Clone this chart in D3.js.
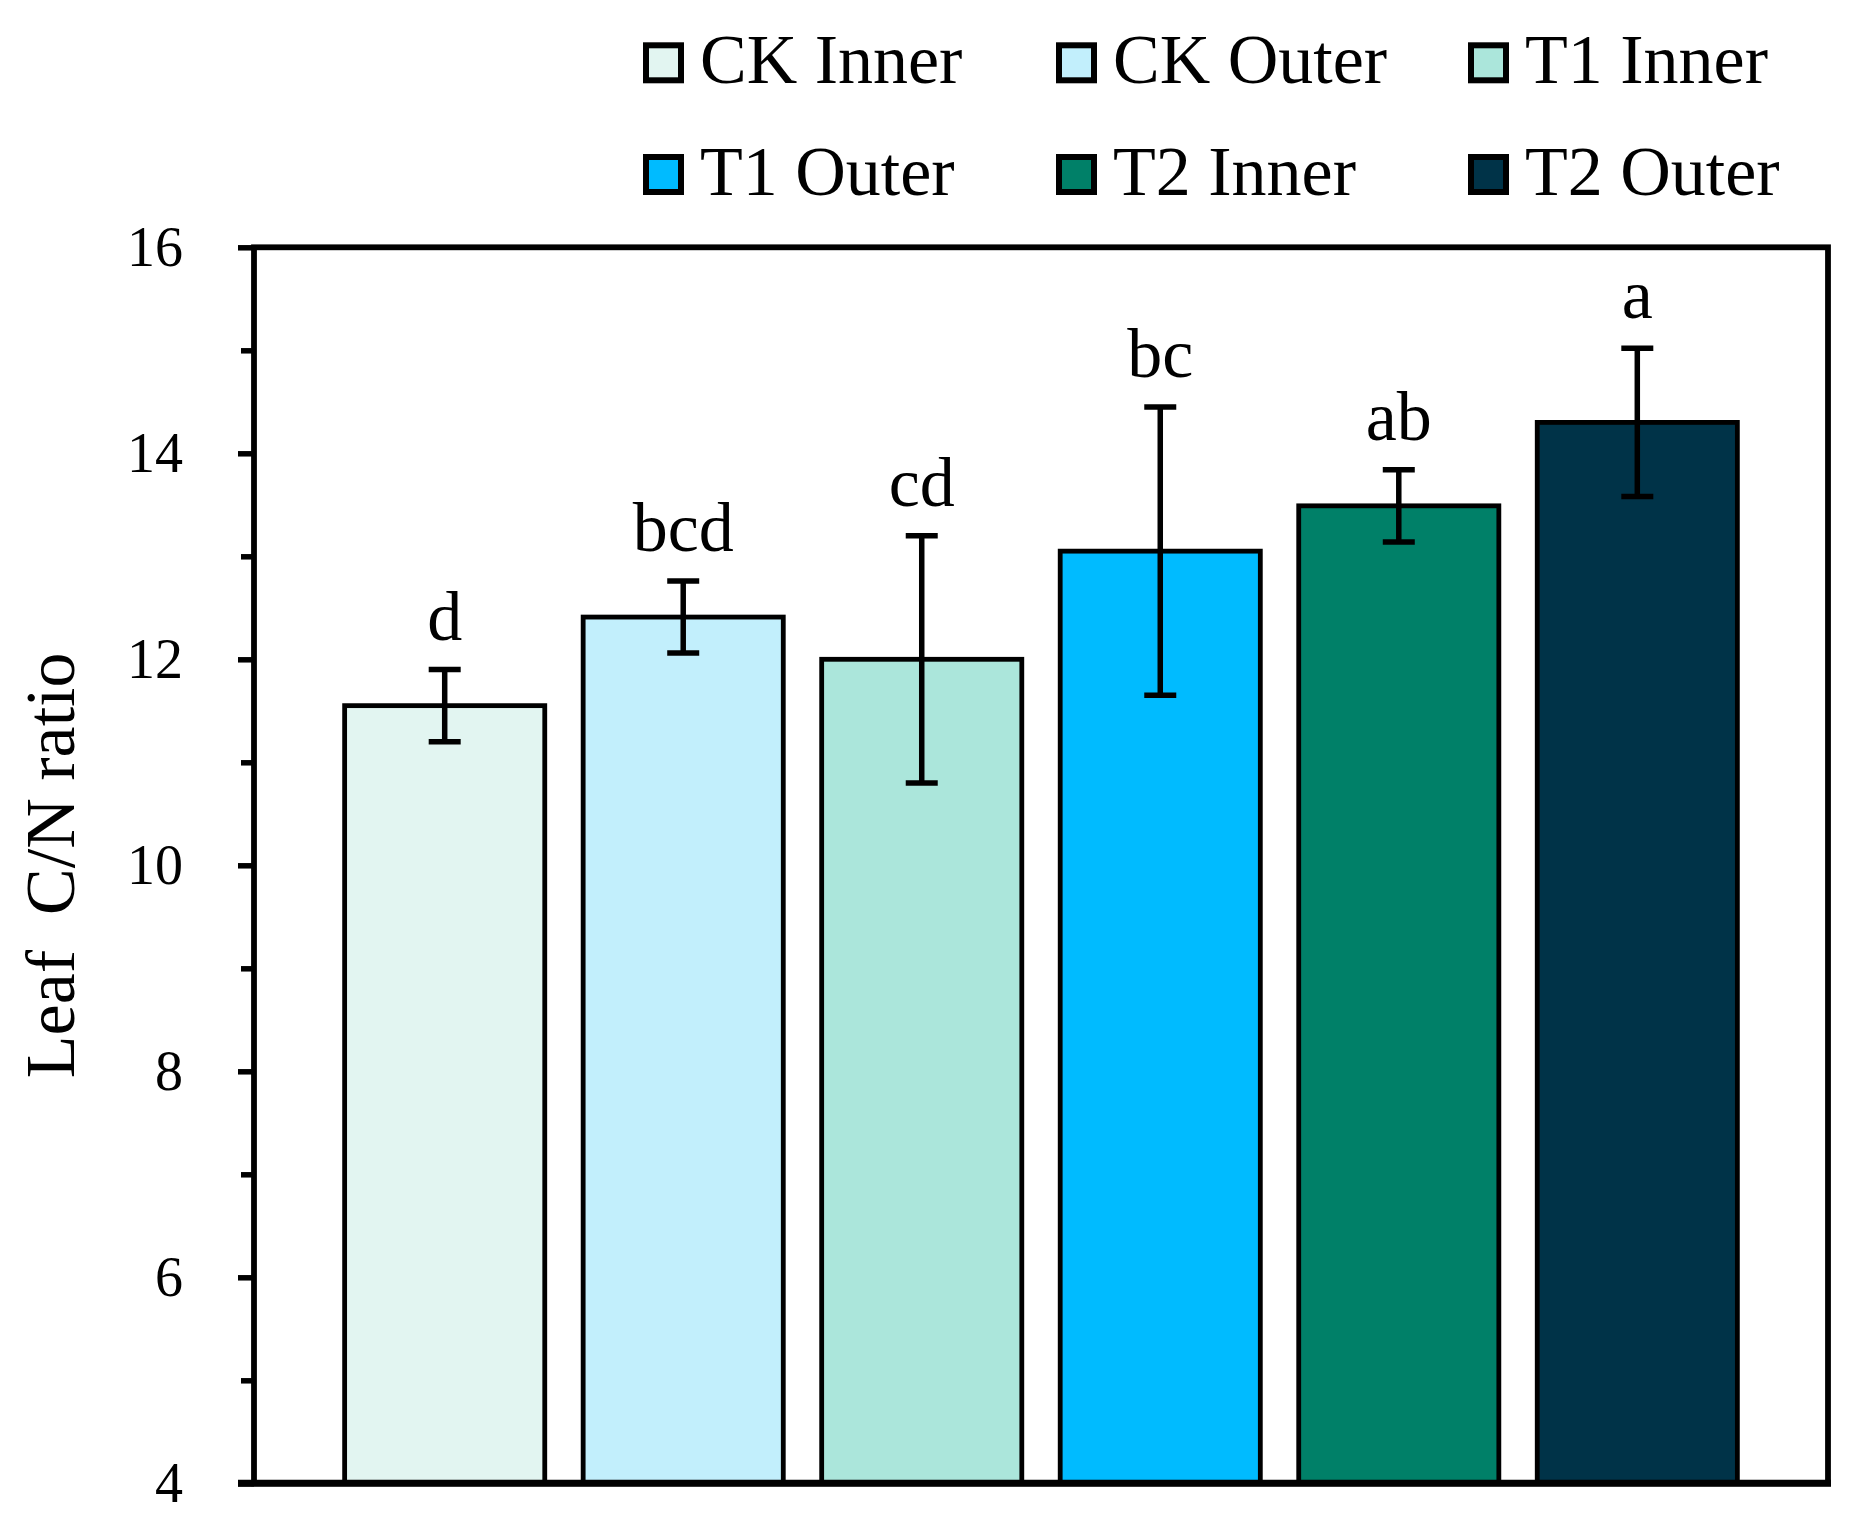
<!DOCTYPE html>
<html>
<head>
<meta charset="utf-8">
<script src="https://cdn.jsdelivr.net/npm/d3@7"></script>
<style>
  html, body { margin: 0; padding: 0; background: #fff; }
  svg text { font-family: "Liberation Serif", "Times New Roman", serif; fill: #000; }
</style>
</head>
<body>
<svg id="chart" width="1854" height="1520"></svg>
<script>
// ---- data ----
const categories = ["CK Inner", "CK Outer", "T1 Inner", "T1 Outer", "T2 Inner", "T2 Outer"];
const means      = [11.55, 12.41, 12.00, 13.05, 13.49, 14.30];
const errors     = [0.35, 0.35, 1.20, 1.40, 0.35, 0.72];
const letters    = ["d", "bcd", "cd", "bc", "ab", "a"];
const colors     = ["#e2f5f1", "#c2effc", "#abe6db", "#00bbff", "#008068", "#003348"];
const majorTicks = [4, 6, 8, 10, 12, 14, 16];
const minorTicks = [5, 7, 9, 11, 13, 15];
const yTitle     = "Leaf  C/N ratio";

// ---- layout ----
const svg = d3.select("#chart");
const L = 254, R = 1828, T = 247.3, B = 1483.3;

const x = d3.scaleBand().domain(categories).range([L, R])
  .paddingInner(0.161).paddingOuter(0.38);
const y = d3.scaleLinear().domain([4, 16]).range([B, T]);

// bars
const g = svg.append("g");
g.selectAll("rect.bar").data(categories).join("rect")
  .attr("class", "bar")
  .attr("x", d => x(d))
  .attr("width", x.bandwidth())
  .attr("y", (d, i) => y(means[i]))
  .attr("height", (d, i) => y(4) - y(means[i]))
  .attr("fill", (d, i) => colors[i])
  .attr("stroke", "#000")
  .attr("stroke-width", 4.8);

// error bars
const capW = 16;
const eg = g.selectAll("g.err").data(categories).join("g").attr("class", "err")
  .attr("transform", d => `translate(${x(d) + x.bandwidth() / 2},0)`);
eg.append("line")
  .attr("y1", (d, i) => y(means[i] + errors[i]))
  .attr("y2", (d, i) => y(means[i] - errors[i]))
  .attr("stroke", "#000").attr("stroke-width", 5.5);
eg.append("line")
  .attr("x1", -capW).attr("x2", capW)
  .attr("y1", (d, i) => y(means[i] + errors[i]))
  .attr("y2", (d, i) => y(means[i] + errors[i]))
  .attr("stroke", "#000").attr("stroke-width", 5.5);
eg.append("line")
  .attr("x1", -capW).attr("x2", capW)
  .attr("y1", (d, i) => y(means[i] - errors[i]))
  .attr("y2", (d, i) => y(means[i] - errors[i]))
  .attr("stroke", "#000").attr("stroke-width", 5.5);

// significance letters
eg.append("text")
  .attr("text-anchor", "middle")
  .attr("y", (d, i) => y(means[i] + errors[i]) - 30)
  .style("font-size", "70px")
  .text((d, i) => letters[i]);

// frame
svg.append("rect")
  .attr("x", L).attr("y", T).attr("width", R - L).attr("height", B - T)
  .attr("fill", "none").attr("stroke", "#000").attr("stroke-width", 5.8);
svg.append("line").attr("x1", L - 16).attr("x2", R + 3)
  .attr("y1", B).attr("y2", B).attr("stroke", "#000").attr("stroke-width", 7);

// y axis major
const yAxis = d3.axisLeft(y).tickValues(majorTicks).tickSize(16).tickPadding(55)
  .tickFormat(d3.format("d"));
const ya = svg.append("g").attr("transform", `translate(${L},0)`).call(yAxis);
ya.select(".domain").remove();
ya.selectAll(".tick line").attr("stroke", "#000").attr("stroke-width", 5.5);
ya.selectAll(".tick text")
  .style("font-family", '"Liberation Serif", "Times New Roman", serif')
  .style("font-size", "56px").attr("fill", "#000");

// y axis minor
const yMinor = d3.axisLeft(y).tickValues(minorTicks).tickSize(13).tickFormat("");
const ym = svg.append("g").attr("transform", `translate(${L},0)`).call(yMinor);
ym.select(".domain").remove();
ym.selectAll(".tick line").attr("stroke", "#000").attr("stroke-width", 5.5);

// y title
svg.append("text")
  .attr("transform", `translate(74,${(T + B) / 2}) rotate(-90)`)
  .attr("text-anchor", "middle")
  .style("font-size", "70px")
  .style("white-space", "pre")
  .attr("xml:space", "preserve")
  .text(yTitle);

// legend
const legCols = [646, 1059, 1471];
const legRows = [80.3, 192];
const leg = svg.append("g");
categories.forEach((c, i) => {
  const cx = legCols[i % 3], ry = legRows[Math.floor(i / 3)];
  leg.append("rect")
    .attr("x", cx).attr("y", ry - 35).attr("width", 35).attr("height", 35)
    .attr("fill", colors[i]).attr("stroke", "#000").attr("stroke-width", 6);
  leg.append("text")
    .attr("x", cx + 54).attr("y", ry + 3)
    .style("font-size", "70px")
    .text(c);
});
</script>
</body>
</html>
